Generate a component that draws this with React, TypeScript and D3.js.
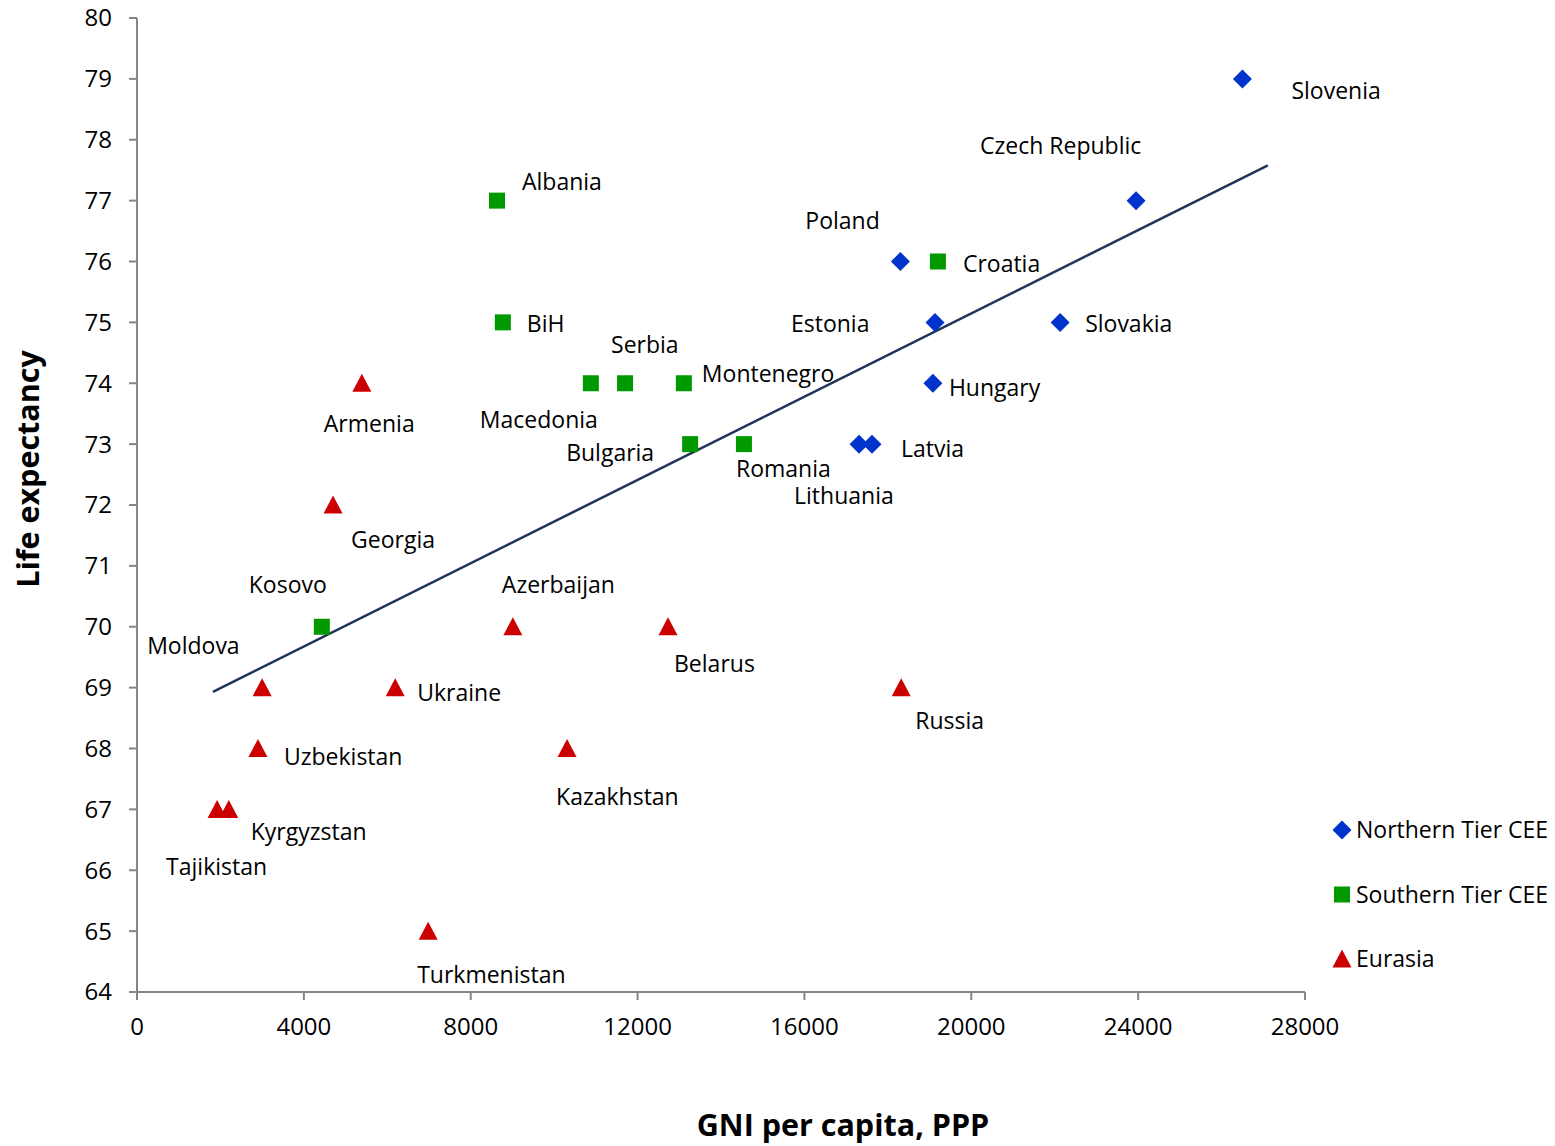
import React from "react";
import * as d3 from "d3";

const northNames = ["Slovenia", "Czech Republic", "Poland", "Estonia", "Slovakia", "Hungary", "Latvia", "Lithuania"];
const northGNI = [26500, 23950, 18300, 19130, 22130, 19080, 17620, 17310];
const northLife = [79, 77, 76, 75, 75, 74, 73, 73];

const southNames = ["Albania", "Croatia", "BiH", "Macedonia", "Serbia", "Montenegro", "Bulgaria", "Romania", "Kosovo"];
const southGNI = [8630, 19200, 8770, 10880, 11700, 13110, 13260, 14550, 4430];
const southLife = [77, 76, 75, 74, 74, 74, 73, 73, 70];

const eurNames = ["Armenia", "Georgia", "Azerbaijan", "Belarus", "Moldova", "Ukraine", "Russia", "Uzbekistan", "Kazakhstan", "Kyrgyzstan", "Tajikistan", "Turkmenistan"];
const eurGNI = [5390, 4700, 9010, 12730, 3000, 6190, 18320, 2900, 10310, 2200, 1920, 6980];
const eurLife = [74, 72, 70, 70, 69, 69, 69, 68, 68, 67, 67, 65];

const trendX = [1820, 27110];
const trendY = [68.93, 77.58];

const xTicks = [0, 4000, 8000, 12000, 16000, 20000, 24000, 28000];
const yTicks = [64, 65, 66, 67, 68, 69, 70, 71, 72, 73, 74, 75, 76, 77, 78, 79, 80];

const seriesNames = ["Northern Tier CEE", "Southern Tier CEE", "Eurasia"];
const seriesColors = ["#0033CC", "#009900", "#CC0000"];

// label offsets (pixels relative to marker)
const labelOffset: Record<string, [number, number]> = {
  Slovenia: [49, 12],
  "Czech Republic": [-156, -55],
  Poland: [-95, -41],
  Estonia: [-144, 2],
  Slovakia: [25, 2],
  Hungary: [16, 5],
  Latvia: [29, 5],
  Lithuania: [-65, 52],
  Albania: [25, -19],
  Croatia: [25, 2],
  BiH: [24, 2],
  Serbia: [-14, -38],
  Montenegro: [18, -9],
  Macedonia: [-111, 37],
  Bulgaria: [-124, 9],
  Romania: [-8, 25],
  Kosovo: [-73, -42],
  Armenia: [-38, 41],
  Georgia: [18, 35],
  Azerbaijan: [-11, -42],
  Belarus: [6, 37],
  Moldova: [-115, -42],
  Ukraine: [22, 5],
  Russia: [14, 33],
  Uzbekistan: [26, 8],
  Kazakhstan: [-11, 48],
  Kyrgyzstan: [22, 23],
  Tajikistan: [-51, 58],
  Turkmenistan: [-11, 44],
};

const FONT = "'Open Sans', 'Noto Sans', sans-serif";
const LABEL_SIZE = 23;
const TICK_SIZE = 24;

function Marker({ kind, x, y }: { kind: number; x: number; y: number }) {
  if (kind === 0) {
    const r = 9.5;
    return <path d={`M${x},${y - r}L${x + r},${y}L${x},${y + r}L${x - r},${y}Z`} fill={seriesColors[0]} />;
  }
  if (kind === 1) {
    const s = 16;
    return <rect x={x - s / 2} y={y - s / 2} width={s} height={s} fill={seriesColors[1]} />;
  }
  const w = 19, h = 17;
  return <path d={`M${x},${y - h / 2 - 1}L${x + w / 2},${y + h / 2}L${x - w / 2},${y + h / 2}Z`} fill={seriesColors[2]} />;
}

export default function App() {
  const x = d3.scaleLinear().domain([0, 28000]).range([137, 1305]);
  const y = d3.scaleLinear().domain([64, 80]).range([992, 18]);

  const series = [
    { names: northNames, gni: northGNI, life: northLife },
    { names: southNames, gni: southGNI, life: southLife },
    { names: eurNames, gni: eurGNI, life: eurLife },
  ];

  const line = d3.line<number>().x((_, i) => x(trendX[i])).y((_, i) => y(trendY[i]));

  const axisColor = "#868686";

  return (
    <svg width={1555} height={1146} style={{ position: "absolute", left: 0, top: 0, background: "#fff" }} fontFamily={FONT}>
      {/* axes */}
      <line x1={x(0)} x2={x(0)} y1={y(80)} y2={y(64)} stroke={axisColor} strokeWidth={2} />
      <line x1={x(0)} x2={x(28000)} y1={y(64)} y2={y(64)} stroke={axisColor} strokeWidth={2} />
      {yTicks.map((t) => (
        <g key={"y" + t}>
          <line x1={x(0) - 8} x2={x(0)} y1={y(t)} y2={y(t)} stroke={axisColor} strokeWidth={2} />
          <text x={x(0) - 25} y={y(t)} dy="0.35em" textAnchor="end" fontSize={TICK_SIZE} fill="#000">{t}</text>
        </g>
      ))}
      {xTicks.map((t) => (
        <g key={"x" + t}>
          <line x1={x(t)} x2={x(t)} y1={y(64)} y2={y(64) + 8} stroke={axisColor} strokeWidth={2} />
          <text x={x(t)} y={y(64) + 35} dy="0.35em" textAnchor="middle" fontSize={TICK_SIZE} fill="#000">{t}</text>
        </g>
      ))}
      <text transform={`translate(28,469) rotate(-90)`} textAnchor="middle" dy="0.35em" fontSize={30.5} fontWeight="bold" fill="#000">Life expectancy</text>
      <text x={843} y={1125} textAnchor="middle" dy="0.35em" fontSize={30.5} fontWeight="bold" fill="#000">GNI per capita, PPP</text>

      {/* trend line */}
      <path d={line([0, 1]) || ""} stroke="#1F3456" strokeWidth={2.5} fill="none" />

      {/* points */}
      {series.map((s, k) =>
        s.names.map((n, i) => {
          const px = x(s.gni[i]);
          const py = y(s.life[i]);
          const off = labelOffset[n] || [10, 0];
          return (
            <g key={n}>
              <Marker kind={k} x={px} y={py} />
              <text x={px + off[0]} y={py + off[1]} dy="0.35em" fontSize={LABEL_SIZE} fill="#000">{n}</text>
            </g>
          );
        })
      )}

      {/* legend */}
      {seriesNames.map((n, i) => {
        const ly = 830 + i * 64.5;
        return (
          <g key={n}>
            <Marker kind={i} x={1342} y={ly} />
            <text x={1356} y={ly} dy="0.35em" fontSize={LABEL_SIZE} fill="#000">{n}</text>
          </g>
        );
      })}
    </svg>
  );
}
